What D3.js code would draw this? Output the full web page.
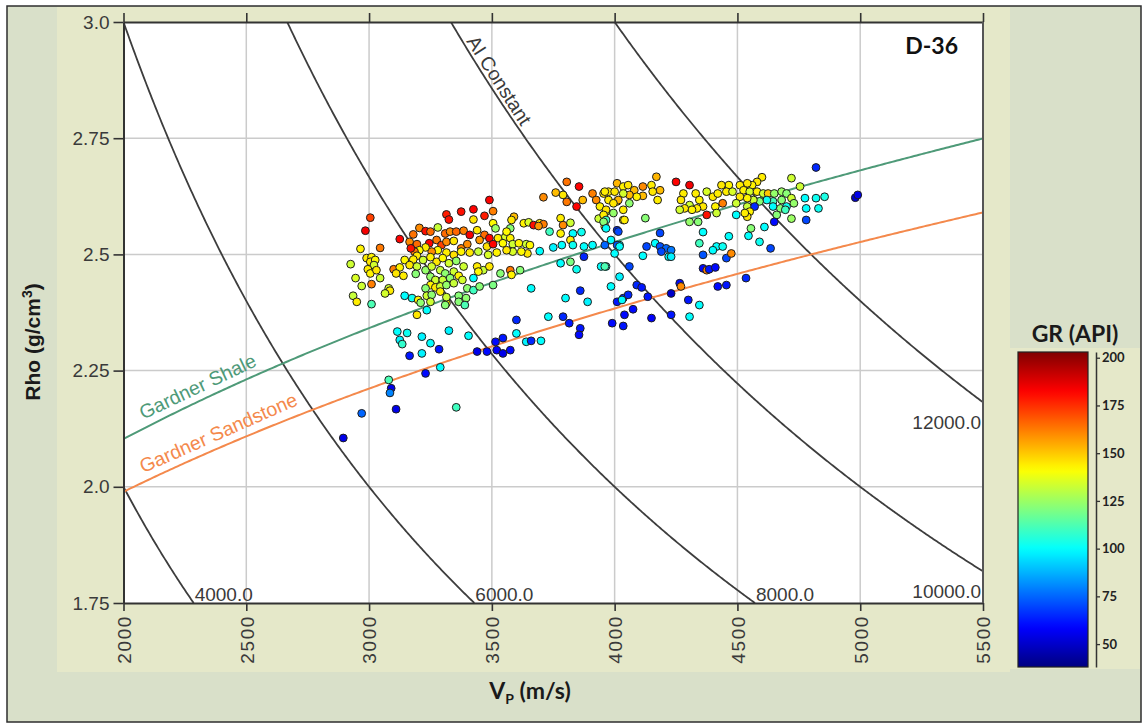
<!DOCTYPE html>
<html>
<head>
<meta charset="utf-8">
<script src="https://cdn.jsdelivr.net/npm/d3@7/dist/d3.min.js"></script>
<style>
  body { margin: 0; background: #ffffff; }
  svg { display: block; }
</style>
</head>
<body>
<svg id="chart" width="1142" height="727"></svg>
<script>
// ---- axis ticks ----
const vpTicks = [2000, 2500, 3000, 3500, 4000, 4500, 5000, 5500];
const rhoTicks = [1.75, 2.0, 2.25, 2.5, 2.75, 3.0];
const rhoTickLabels = ["1.75", "2.0", "2.25", "2.5", "2.75", "3.0"];
const grTicks = [50, 75, 100, 125, 150, 175, 200];
const grRange = [38, 203];

// ---- acoustic impedance contours (m/s * g/cm3) ----
const aiValues = [4000, 6000, 8000, 10000, 12000];
const aiLabels = ["4000.0", "6000.0", "8000.0", "10000.0", "12000.0"];

// ---- Gardner trends: rho = a * Vp(km/s)^b ----
const gardnerNames = ["Gardner Shale", "Gardner Sandstone"];
const gardnerA = [1.75, 1.66];
const gardnerB = [0.265, 0.261];

// ---- well D-36 log samples: [Vp (m/s), Rho (g/cm3), GR (API)] ----
const logSamples = [
  // 3100-3750 m/s, upper band
  [3490,2.617,182],[3505,2.593,162],[3425,2.597,182],[3375,2.592,180],[3315,2.586,178],[3325,2.575,180],[3470,2.583,178],[3425,2.575,145],[3505,2.567,142],[3005,2.579,172],
  [2985,2.551,184],[3125,2.533,182],[3180,2.543,164],[3205,2.557,160],[3230,2.550,180],[3250,2.549,165],[3280,2.558,132],[3310,2.545,165],[3330,2.549,160],[3355,2.549,166],
  [3385,2.551,162],[3410,2.542,184],[3440,2.552,145],[3470,2.542,165],[3490,2.535,182],[3525,2.535,144],[3165,2.527,160],[3195,2.522,165],[3245,2.524,182],[3275,2.531,163],
  [3295,2.520,172],[3315,2.527,160],[3345,2.529,145],[3375,2.513,162],[3400,2.522,160],[3450,2.531,158],[3480,2.517,146],[3505,2.522,182],[3555,2.538,135],[3575,2.535,143],
  [3590,2.581,152],[3580,2.574,145],[3630,2.567,143],[3650,2.569,135],[3670,2.563,180],[3695,2.567,144],[3710,2.565,162],[3690,2.561,158],[3735,2.549,110],[3575,2.556,122],
  [3560,2.549,142],[3515,2.556,125],[3545,2.524,142],[3585,2.522,133],[3610,2.524,143],[3640,2.522,133],[3655,2.520,142],[3695,2.507,100],[3645,2.502,145],[3620,2.506,142],
  [3585,2.506,135],[3560,2.509,145],[3520,2.504,143],[3485,2.499,135],[3445,2.506,132],[3410,2.504,145],[3375,2.506,143],[3345,2.499,146],[3315,2.504,144],[3280,2.509,142],
  [3255,2.506,160],[3230,2.515,144],[3205,2.509,142],[3185,2.506,163],[3170,2.513,180],[3195,2.497,145],[3220,2.488,133],[3250,2.494,143],[3275,2.484,145],[3300,2.492,142],
  [3325,2.481,134],[3355,2.486,124],[3385,2.474,133],[3440,2.474,144],[3465,2.466,132],[3445,2.463,142],[3490,2.474,145],[3535,2.459,122],[3575,2.466,163],[3580,2.456,143],
  [3615,2.466,122],[3180,2.489,144],[3145,2.488,142],[3165,2.477,145],[3195,2.474,133],[3230,2.466,124],[3255,2.474,134],[3290,2.466,132],[3310,2.459,123],[3345,2.463,133],
  [3365,2.454,143],[3380,2.445,134],[3100,2.468,162],[3125,2.472,143],[3110,2.459,145],[3140,2.454,144],[3190,2.458,122],[3250,2.452,124],[3270,2.445,133],[3300,2.445,132],
  [3330,2.449,123],[3250,2.434,143],[3270,2.429,145],[3230,2.427,122],[3290,2.431,133],[3315,2.434,124],[3345,2.438,132],[3400,2.427,123],[3425,2.423,110],[3450,2.431,122],
  [3505,2.434,120],[3425,2.449,100],[3145,2.411,100],[3175,2.406,102],[3200,2.402,143],[3235,2.411,133],[3255,2.413,123],[3290,2.420,144],[3250,2.398,133],[3235,2.380,100],
  [3315,2.395,143],[3365,2.411,122],[3395,2.406,123],[3365,2.398,122],[3390,2.391,112],[3195,2.370,145],[3310,2.391,122],[3315,2.408,133],[3210,2.396,123],
  // 2900-3100 m/s
  [2965,2.512,143],[3045,2.514,163],[2925,2.479,133],[2990,2.492,144],[3010,2.494,143],[3005,2.484,145],[3025,2.488,142],[3020,2.477,134],[2995,2.468,144],[3005,2.459,143],
  [3030,2.466,145],[3045,2.449,133],[2945,2.449,135],[2970,2.432,133],[3010,2.436,162],[3080,2.427,133],[3085,2.422,144],[3065,2.416,134],[2935,2.411,132],[2950,2.398,144],
  [3010,2.393,112],
  // low-density scatter, 3100-4050 m/s
  [3115,2.334,100],[3155,2.331,102],[3125,2.316,98],[3135,2.307,108],[3215,2.323,98],[3250,2.309,100],[3285,2.296,62],[3325,2.336,98],[3405,2.325,100],[3215,2.287,98],
  [3165,2.282,62],[3290,2.257,100],[3230,2.244,60],[3080,2.230,112],[3440,2.291,55],[3480,2.291,60],[3520,2.294,58],[3515,2.312,60],[3545,2.320,62],[3545,2.287,55],
  [3575,2.294,60],[3600,2.330,100],[3600,2.359,65],[3640,2.312,98],[3660,2.314,65],[3700,2.314,100],[3660,2.427,100],[3730,2.366,100],[3790,2.366,65],[3800,2.406,100],
  [3815,2.352,62],[3860,2.422,65],[3890,2.398,98],[3860,2.341,62],[3855,2.327,60],[3965,2.474,100],[3985,2.431,100],[4020,2.452,98],[4035,2.406,65],[3990,2.352,60],
  [4035,2.346,62],[4040,2.370,60],[4010,2.398,62],
  // 3700-4050 m/s, upper band
  [3805,2.656,164],[3855,2.646,182],[3710,2.623,160],[3760,2.633,152],[3790,2.628,145],[3805,2.613,163],[3845,2.603,182],[3870,2.617,152],[3910,2.631,162],[3925,2.617,160],
  [3955,2.631,145],[3975,2.635,144],[4010,2.653,153],[4035,2.646,143],[4010,2.614,145],[3965,2.592,133],[3940,2.603,143],[3995,2.589,124],[4035,2.574,144],[3780,2.578,144],
  [3820,2.568,133],[3790,2.563,160],[3780,2.545,143],[3830,2.545,100],[3820,2.531,144],[3865,2.548,102],[3935,2.577,133],[3960,2.560,143],[4010,2.552,65],[3910,2.520,100],
  [3875,2.517,100],[3830,2.520,102],[3785,2.520,100],[3750,2.515,98],[3875,2.495,65],[4020,2.520,100],[4000,2.502,100],[3780,2.481,100],[3820,2.484,120],[3945,2.474,100],
  [3845,2.468,102],
  // 4400-4900 m/s
  [4820,2.687,65],[4720,2.664,133],[4600,2.666,144],[4580,2.656,145],[4560,2.649,143],[4540,2.653,145],[4510,2.649,144],[4465,2.649,143],[4435,2.649,145],[4455,2.635,144],
  [4480,2.635,135],[4525,2.638,143],[4550,2.635,134],[4580,2.635,144],[4605,2.631,133],[4625,2.631,150],[4650,2.631,124],[4680,2.635,125],[4700,2.631,122],[4755,2.646,133],
  [4775,2.621,100],[4820,2.621,102],[4855,2.624,104],[4720,2.621,133],[4680,2.617,122],[4645,2.614,110],[4620,2.617,102],[4590,2.614,122],[4565,2.617,133],[4540,2.621,143],
  [4510,2.624,145],[4495,2.610,133],[4540,2.603,132],[4570,2.603,65],[4550,2.592,143],[4540,2.581,145],[4645,2.603,100],[4675,2.599,122],[4700,2.603,102],[4730,2.610,124],
  [4660,2.585,122],[4695,2.596,110],[4780,2.599,100],[4830,2.599,102],[4780,2.574,70],[4720,2.577,125],[4650,2.570,60],[4610,2.559,100],[4555,2.556,122],[4545,2.540,100],
  [4590,2.527,102],[4635,2.513,70],
  // 3950-4500 m/s
  [3960,2.635,144],[4055,2.649,145],[4080,2.638,152],[4115,2.646,160],[4150,2.649,144],[4170,2.667,153],[4185,2.638,152],[4175,2.617,144],[4155,2.635,145],[4115,2.626,152],
  [4090,2.624,143],[4060,2.628,152],[4035,2.631,134],[4000,2.635,145],[4015,2.617,153],[3975,2.617,144],[3995,2.610,145],[4060,2.610,123],[4035,2.596,144],[3965,2.596,145],
  [3955,2.585,144],[3965,2.574,110],[3955,2.570,122],[3965,2.556,100],[4040,2.574,144],[4125,2.578,122],[4015,2.549,70],[3985,2.531,100],[4010,2.520,72],[3960,2.520,75],
  [4020,2.517,100],
  [4250,2.656,182],[4305,2.649,184],[4280,2.631,144],[4270,2.617,145],[4305,2.606,133],[4330,2.631,144],[4345,2.617,143],[4375,2.635,135],[4400,2.624,145],[4420,2.631,144],
  [4440,2.610,162],[4410,2.603,143],[4360,2.603,145],[4335,2.599,144],[4315,2.596,143],[4285,2.599,145],[4265,2.596,134],[4375,2.585,180],[4415,2.589,133],[4305,2.570,124],
  [4340,2.570,122],[4495,2.585,100],[4530,2.589,144],[4185,2.546,70],[4360,2.548,100],[4465,2.539,100],[4415,2.517,100],[4440,2.517,102],[4400,2.509,100],[4345,2.524,110],
  [4360,2.499,72],[4130,2.517,70],[4165,2.524,100],[4185,2.517,72],[4210,2.513,75],[4230,2.509,78],[4220,2.495,100],[4230,2.495,98],[4115,2.497,100],[4190,2.506,70],
  [4455,2.492,70],[4475,2.502,160],[4360,2.470,60],[4375,2.466,162],[4385,2.468,62],[4410,2.472,60],[4060,2.474,70],[3960,2.474,112],
  // 4000-4550 m/s, below the shale trend
  [4090,2.434,65],[4110,2.429,62],[4055,2.413,65],[4030,2.402,100],[4135,2.409,62],[4265,2.438,60],[4270,2.431,160],[4230,2.416,50],[4300,2.402,62],[4345,2.391,100],
  [4420,2.431,60],[4455,2.434,62],[4535,2.449,65],[4075,2.382,60],[4150,2.363,58],[4230,2.370,62],[4305,2.366,100],
  [4980,2.622,50],[4990,2.628,55],
  // low-density tail
  [3090,2.212,55],[3085,2.202,80],[2970,2.158,75],[3110,2.167,55],[2895,2.105,55],[3355,2.171,110]
];

// ---- layout ----
const svg = d3.select("#chart");
const plot = { left: 123.5, right: 983, top: 22, bottom: 603 };
const x = d3.scaleLinear().domain([2000, 5500]).range([plot.left, plot.right]);
const y = d3.scaleLinear().domain([1.75, 3.0]).range([plot.bottom, plot.top]);

// jet colour map
function jet(t) {
  const c = v => Math.max(0, Math.min(1, v));
  const r = c(1.5 - Math.abs(4 * t - 3));
  const g = c(1.5 - Math.abs(4 * t - 2));
  const b = c(1.5 - Math.abs(4 * t - 1));
  return d3.rgb(r * 255, g * 255, b * 255).formatHex();
}
const grNorm = d3.scaleLinear().domain(grRange).range([0, 1]).clamp(true);
const grColor = v => jet(grNorm(v));

// ---- background panels ----
svg.append("rect").attr("x", 7).attr("y", 6).attr("width", 1134).attr("height", 716)
  .attr("fill", "#d9e0c9").attr("stroke", "#2e2e2e").attr("stroke-width", 1.5);
svg.append("rect").attr("x", 57).attr("y", 7).attr("width", 953).attr("height", 665)
  .attr("fill", "#e5e8c9");
svg.append("rect").attr("x", 1010).attr("y", 348).attr("width", 130).attr("height", 321)
  .attr("fill", "#e5e8c9");

// plot area
svg.append("rect").attr("x", plot.left).attr("y", plot.top)
  .attr("width", plot.right - plot.left).attr("height", plot.bottom - plot.top)
  .attr("fill", "#ffffff");

svg.append("defs").append("clipPath").attr("id", "plotClip")
  .append("rect").attr("x", plot.left).attr("y", plot.top)
  .attr("width", plot.right - plot.left).attr("height", plot.bottom - plot.top);

// grid
const grid = svg.append("g").attr("stroke", "#cbcbcb").attr("stroke-width", 1.5);
grid.selectAll("line.v").data(vpTicks.slice(1, -1)).join("line")
  .attr("x1", d => x(d)).attr("x2", d => x(d)).attr("y1", plot.top).attr("y2", plot.bottom);
grid.selectAll("line.h").data(rhoTicks.slice(1, -1)).join("line")
  .attr("x1", plot.left).attr("x2", plot.right).attr("y1", d => y(d)).attr("y2", d => y(d));

const inner = svg.append("g").attr("clip-path", "url(#plotClip)");

// ---- constant-impedance curves ----
const curve = d3.line().x(d => x(d[0])).y(d => y(d[1]));
aiValues.forEach(ai => {
  const v0 = Math.max(2000, ai / 3.0), v1 = Math.min(5500, ai / 1.75);
  const pts = d3.range(v0, v1, 5).concat([v1]).map(v => [v, ai / v]);
  inner.append("path").attr("d", curve(pts)).attr("fill", "none")
    .attr("stroke", "#3d3d3d").attr("stroke-width", 1.8);
});

// ---- Gardner trends ----
const gardnerColors = ["#4e9a78", "#f4894c"];
gardnerNames.forEach((name, i) => {
  const f = v => gardnerA[i] * Math.pow(v / 1000, gardnerB[i]);
  const pts = d3.range(2000, 5500, 10).concat([5500]).map(v => [v, f(v)]);
  inner.append("path").attr("d", curve(pts)).attr("fill", "none")
    .attr("stroke", gardnerColors[i]).attr("stroke-width", 2);
  const va = 2080, vb = 2550;
  const ang = Math.atan2(y(f(vb)) - y(f(va)), x(vb) - x(va)) * 180 / Math.PI;
  svg.append("text").text(name)
    .attr("transform", `translate(${x(va)},${y(f(va)) - 9}) rotate(${ang})`)
    .attr("font-family", "Liberation Sans, Arial, sans-serif").attr("font-size", 19.5)
    .attr("fill", gardnerColors[i]);
});

// ---- samples ----
inner.append("g").selectAll("circle").data(logSamples).join("circle")
  .attr("cx", d => x(d[0])).attr("cy", d => y(d[1])).attr("r", 3.9)
  .attr("fill", d => grColor(d[2]))
  .attr("stroke", "#1e1e1e").attr("stroke-width", 1);

// ---- impedance labels ----
const labelFont = "Liberation Sans, Arial, sans-serif";
aiValues.forEach((ai, i) => {
  const vEnd = ai / 1.75;
  const t = svg.append("text").text(aiLabels[i])
    .attr("font-family", labelFont).attr("font-size", 19).attr("fill", "#3a3a3a");
  if (vEnd <= 5500) {
    t.attr("x", x(vEnd) + 1).attr("y", plot.bottom - 2).attr("text-anchor", "start");
  } else {
    t.attr("x", plot.right - 2).attr("y", y(ai / 5500) + 27).attr("text-anchor", "end");
  }
});

// "AI Constant" along the 10000 curve
{
  const ai = 10000, ra = 2.955, rb = 2.77;
  const pa = [x(ai / ra), y(ra)], pb = [x(ai / rb), y(rb)];
  const ang = Math.atan2(pb[1] - pa[1], pb[0] - pa[0]);
  const nx = Math.sin(ang) * 3, ny = -Math.cos(ang) * 3;
  svg.append("text").text("AI Constant")
    .attr("transform", `translate(${pa[0] + nx},${pa[1] + ny}) rotate(${ang * 180 / Math.PI})`)
    .attr("font-family", labelFont).attr("font-size", 19.5).attr("fill", "#3a3a3a");
}

// well name
svg.append("text").text("D-36").attr("x", 958).attr("y", 54).attr("text-anchor", "end")
  .attr("font-family", "Lato, sans-serif").attr("font-weight", 700).attr("font-size", 23)
  .attr("fill", "#111");

// ---- axes ----
const axisColor = "#333333";
const gLeft = svg.append("g").attr("transform", `translate(${plot.left},0)`)
  .call(d3.axisLeft(y).tickValues(rhoTicks).tickFormat((d, i) => rhoTickLabels[i])
    .tickSize(10).tickSizeOuter(0).tickPadding(4));
const gBottom = svg.append("g").attr("transform", `translate(0,${plot.bottom})`)
  .call(d3.axisBottom(x).tickValues(vpTicks).tickFormat(d3.format("d"))
    .tickSize(8).tickSizeOuter(0));
const gTop = svg.append("g").attr("transform", `translate(0,${plot.top})`)
  .call(d3.axisTop(x).tickValues(vpTicks).tickFormat("").tickSize(9).tickSizeOuter(0));

[gLeft, gBottom, gTop].forEach(g => {
  g.selectAll("path.domain").attr("stroke", axisColor).attr("stroke-width", 2);
  g.selectAll(".tick line").attr("stroke", axisColor).attr("stroke-width", 1.6);
  g.selectAll("text").attr("fill", "#3a3a3a").attr("font-family", labelFont).attr("font-size", 19);
});
gBottom.selectAll(".tick text")
  .attr("transform", "rotate(-90)").attr("text-anchor", "end")
  .attr("x", -12).attr("y", 0).attr("dy", "0.36em")
  .style("letter-spacing", "1.6px");

// right frame edge
svg.append("line").attr("x1", plot.right).attr("x2", plot.right)
  .attr("y1", plot.top).attr("y2", plot.bottom)
  .attr("stroke", "#555").attr("stroke-width", 2);

// axis titles
svg.append("text").attr("transform", "translate(40,342) rotate(-90)")
  .attr("text-anchor", "middle").attr("font-family", labelFont).attr("font-weight", 700)
  .attr("font-size", 21).attr("fill", "#1a1a1a")
  .html('Rho (g/cm<tspan dy="-8" font-size="14">3</tspan><tspan dy="8">)</tspan>');

svg.append("text").attr("x", 530).attr("y", 699).attr("text-anchor", "middle")
  .attr("font-family", "Lato, sans-serif").attr("font-weight", 700).attr("font-size", 23)
  .attr("fill", "#1a1a1a")
  .html('V<tspan dy="5" font-size="14">P</tspan><tspan dy="-5"> (m/s)</tspan>');

// ---- GR colour bar ----
const cb = { x: 1018, w: 70, top: 352, bottom: 667 };
const cbScale = d3.scaleLinear().domain(grRange).range([cb.bottom, cb.top]);
const grad = svg.select("defs").append("linearGradient").attr("id", "grGrad")
  .attr("x1", 0).attr("y1", 1).attr("x2", 0).attr("y2", 0);
d3.range(0, 1.0001, 0.02).forEach(t => {
  grad.append("stop").attr("offset", t).attr("stop-color", jet(t));
});
svg.append("rect").attr("x", cb.x).attr("y", cb.top).attr("width", cb.w)
  .attr("height", cb.bottom - cb.top).attr("fill", "url(#grGrad)")
  .attr("stroke", "#222").attr("stroke-width", 1.2);

const gCb = svg.append("g").attr("transform", `translate(1096,0)`)
  .call(d3.axisRight(cbScale).tickValues(grTicks).tickSize(4).tickSizeOuter(0).tickPadding(2));
gCb.selectAll("path.domain").attr("stroke", "#333").attr("stroke-width", 1.5);
gCb.selectAll(".tick line").attr("stroke", "#333").attr("stroke-width", 1.3);
gCb.selectAll("text").attr("font-family", "Lato, sans-serif").attr("font-weight", 700)
  .attr("font-size", 13).attr("fill", "#222");

svg.append("text").text("GR (API)").attr("x", 1075).attr("y", 342).attr("text-anchor", "middle")
  .attr("font-family", "Lato, sans-serif").attr("font-weight", 700).attr("font-size", 23)
  .attr("fill", "#1a1a1a");
</script>
</body>
</html>
